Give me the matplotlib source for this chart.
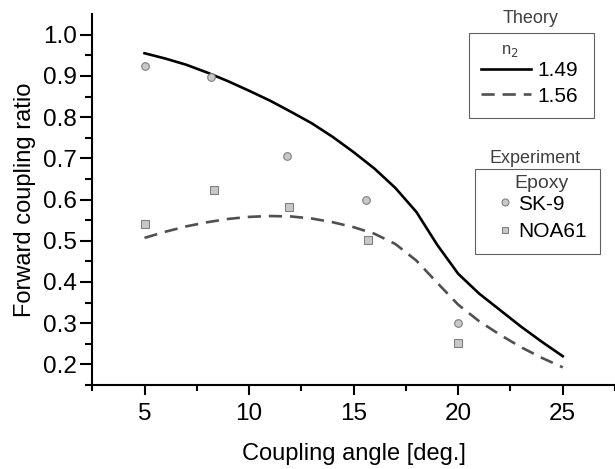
import matplotlib
matplotlib.use('Agg')
from matplotlib import pyplot as plt
from matplotlib.lines import Line2D
from matplotlib.patches import Rectangle

plt.rcParams['font.family'] = ['Liberation Sans', 'DejaVu Sans']

# theory curves
theory_x = [5, 6, 7, 8, 9, 10, 11, 12, 13, 14, 15, 16, 17, 18, 19, 20, 21, 22, 23, 24, 25]
theory_149 = [0.955, 0.942, 0.927, 0.908, 0.887, 0.864, 0.840, 0.813, 0.785, 0.752, 0.715,
              0.675, 0.628, 0.570, 0.490, 0.420, 0.372, 0.332, 0.292, 0.255, 0.220]
theory_156 = [0.507, 0.522, 0.535, 0.545, 0.553, 0.558, 0.560, 0.559, 0.554, 0.545, 0.533,
              0.517, 0.492, 0.452, 0.398, 0.345, 0.305, 0.272, 0.242, 0.216, 0.193]

# experiment points
sk9_x = [5.0, 8.2, 11.8, 15.6, 20.0]
sk9_y = [0.923, 0.897, 0.705, 0.598, 0.300]
noa_x = [5.0, 8.3, 11.9, 15.7, 20.0]
noa_y = [0.540, 0.622, 0.581, 0.503, 0.252]

fig = plt.figure(figsize=(6.15, 4.69), dpi=100)
ax = fig.add_axes([0.150, 0.179, 0.850, 0.791])

l1, = ax.plot(theory_x, theory_149, color='black', lw=1.9)
l2, = ax.plot(theory_x, theory_156, color='#505050', lw=1.9, dashes=(5, 3))
ax.plot(sk9_x, sk9_y, 'o', ms=5.5, mfc='#c8c8c8', mec='#808080', mew=0.8)
ax.plot(noa_x, noa_y, 's', ms=5.5, mfc='#c8c8c8', mec='#808080', mew=0.8)

ax.set_xlim(2.5, 27.4)
ax.set_ylim(0.15, 1.05)
ax.set_xticks([5, 10, 15, 20, 25])
ax.set_xticks([2.5, 7.5, 12.5, 17.5, 22.5, 27.5], minor=True)
ax.set_yticks([0.2, 0.3, 0.4, 0.5, 0.6, 0.7, 0.8, 0.9, 1.0])
ax.set_yticks([0.15, 0.25, 0.35, 0.45, 0.55, 0.65, 0.75, 0.85, 0.95], minor=True)
ax.set_yticklabels(['0.2', '0.3', '0.4', '0.5', '0.6', '0.7', '0.8', '0.9', '1.0'])
ax.spines['top'].set_visible(False)
ax.spines['right'].set_visible(False)
for s in ['left', 'bottom']:
    ax.spines[s].set_linewidth(1.5)
ax.tick_params(axis='y', which='major', length=9, width=1.5, labelsize=17.5, pad=2)
ax.tick_params(axis='y', which='minor', length=5, width=1.5)
ax.tick_params(axis='x', which='major', length=7, width=1.5, labelsize=17.5, pad=6)
ax.tick_params(axis='x', which='minor', length=4, width=1.5)
ax.set_xlabel('Coupling angle [deg.]', fontsize=17, labelpad=13)
ax.set_ylabel('Forward coupling ratio', fontsize=17, labelpad=5)

# theory legend
fig.text(0.863, 0.978, 'Theory', fontsize=13, color='#404040', ha='center', va='top')
fig.add_artist(Rectangle((0.7626, 0.7484), 0.2033, 0.1812, transform=fig.transFigure,
                         fill=False, edgecolor='#606060', lw=0.8))
leg1 = fig.legend([l1, l2], ['1.49', '1.56'], title='n$_2$', loc='upper left',
                  bbox_to_anchor=(0.776, 0.920), fontsize=15, title_fontsize=12,
                  frameon=False, handlelength=2.4, handletextpad=0.3, borderpad=0.2,
                  labelspacing=0.3, alignment='left', borderaxespad=0)
leg1.get_title().set_color('#404040')
leg1._legend_box.sep = 2
leg1.get_title().set_position((20, 0))

# experiment legend
fig.text(0.870, 0.680, 'Experiment', fontsize=13, color='#404040', ha='center', va='top')
fig.add_artist(Rectangle((0.7724, 0.4584), 0.2033, 0.1813, transform=fig.transFigure,
                         fill=False, edgecolor='#606060', lw=0.8))
h1 = Line2D([], [], ls='none', marker='o', ms=5, mfc='#c8c8c8', mec='#808080', mew=0.8)
h2 = Line2D([], [], ls='none', marker='s', ms=5, mfc='#c8c8c8', mec='#808080', mew=0.8)
leg2 = fig.legend([h1, h2], ['SK-9', 'NOA61'], title='Epoxy', loc='upper left',
                  bbox_to_anchor=(0.800, 0.636), fontsize=15, title_fontsize=14,
                  frameon=False, handlelength=0.8, handletextpad=0.25, borderpad=0.2,
                  labelspacing=0.4, borderaxespad=0)
leg2.get_title().set_color('#404040')
leg2._legend_box.sep = 2

fig.savefig('out.png', dpi=100)
